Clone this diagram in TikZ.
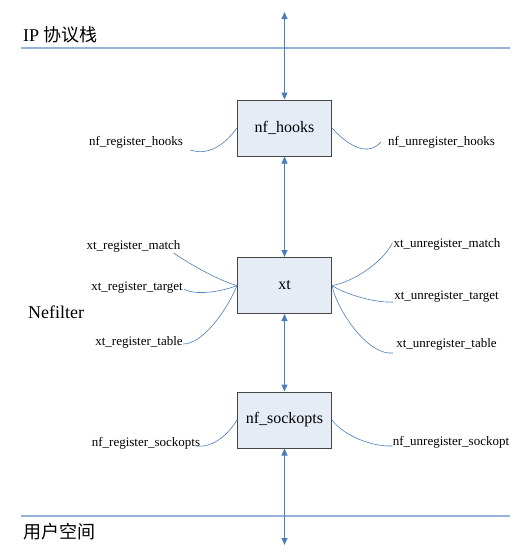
\documentclass[tikz,border=0pt]{standalone}
\usepackage{fontspec}
\setmainfont{Liberation Serif}
\newfontfamily\cjk{Noto Sans CJK SC}
\definecolor{lnblue}{RGB}{74,126,187}
\definecolor{sepblue}{RGB}{149,179,215}
\definecolor{boxfill}{RGB}{230,236,246}
\definecolor{boxline}{RGB}{70,70,70}
\usetikzlibrary{arrows.meta}

\begin{document}
\begin{tikzpicture}[x=1pt, y=-1pt,
    blk/.style = {rectangle, draw=boxline, line width=1pt, fill=boxfill,
      minimum width=94pt, minimum height=56pt,
      font=\fontsize{16}{18}\selectfont},
    lbl/.style = {inner sep=0pt, font=\fontsize{13}{15}\selectfont},
    ttl/.style = {anchor=west, inner sep=0pt, font=\fontsize{18}{20}\selectfont},
    arr/.style = {draw=lnblue, line width=1pt,
      {Triangle[length=7pt,width=6pt]}-{Triangle[length=7pt,width=6pt]}},
    lnk/.style = {draw=lnblue, line width=0.6pt},
    sep/.style = {draw=sepblue, line width=1.2pt},
  ]
\useasboundingbox (0,0) rectangle (524,557);

\draw[sep] (21,48) -- (510,48);
\draw[sep] (21,516) -- (510,516);
\node[ttl] (ip) at (23,35) {IP {\cjk 协议栈}};
\node[ttl] (nef) at (28,312) {Nefilter};
\node[ttl] (us) at (23,532) {\cjk 用户空间};

\node[blk] (hooks) at (284.5,128) {nf\_hooks};
\node[blk] (xt) at (284.5,285.5) {xt};
\node[blk] (sock) at (284.5,420) {nf\_sockopts};
\coordinate (top) at (284.5,12);
\coordinate (bot) at (284.5,545);

\draw[arr] (top) -- (hooks.north);
\draw[arr] (hooks.south) -- (xt.north);
\draw[arr] (xt.south) -- (sock.north);
\draw[arr] (sock.south) -- (bot);

\node[lbl] (rh) at (136,142) {nf\_register\_hooks};
\node[lbl] (uh) at (441.5,142) {nf\_unregister\_hooks};
\node[lbl] (rm) at (133.5,246) {xt\_register\_match};
\node[lbl] (rt) at (137,288) {xt\_register\_target};
\node[lbl] (rtb) at (139,342) {xt\_register\_table};
\node[lbl] (um) at (447,244) {xt\_unregister\_match};
\node[lbl] (ut) at (446.5,297) {xt\_unregister\_target};
\node[lbl] (utb) at (446.5,344) {xt\_unregister\_table};
\node[lbl] (rs) at (146,443) {nf\_register\_sockopts};
\node[lbl] (uso) at (451,442) {nf\_unregister\_sockopt};

\draw[lnk] ([shift={(7,8)}]rh.east) .. controls +(22,7) and +(-9,12) .. (hooks.west);
\draw[lnk] (hooks.east) .. controls +(18,20) and +(-12,14) .. ([shift={(-7,0)}]uh.west);
\draw[lnk] ([shift={(-7,7)}]rm.east) .. controls +(25,17) and +(-12,-3) .. (xt.west);
\draw[lnk] ([shift={(1,1)}]rt.east) .. controls +(12,7) and +(-15,6) .. (xt.west);
\draw[lnk] ([shift={(0,2)}]rtb.east) .. controls +(22,0) and +(-8,20) .. (xt.west);
\draw[lnk] (xt.east) .. controls +(20,-3) and +(-10,20) .. ([shift={(-1,-1)}]um.west);
\draw[lnk] (xt.east) .. controls +(12,8) and +(-20,1) .. ([shift={(-1,5)}]ut.west);
\draw[lnk] (xt.east) .. controls +(5,25) and +(-25,3) .. ([shift={(-3,9)}]utb.west);
\draw[lnk] ([shift={(-4,3)}]rs.east) .. controls +(18,2) and +(-8,13) .. (sock.west);
\draw[lnk] (sock.east) .. controls +(12,16) and +(-20,1) .. ([shift={(0,4)}]uso.west);
\end{tikzpicture}
\end{document}
